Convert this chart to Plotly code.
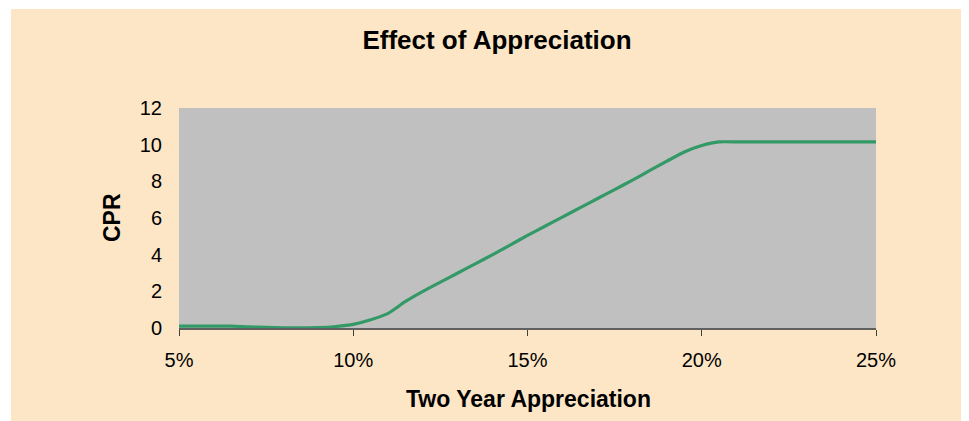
import plotly.graph_objects as go

# Two-year appreciation (fraction) and CPR values
appreciation = [0.050, 0.055, 0.060, 0.065, 0.070, 0.075, 0.080, 0.085, 0.090, 0.095,
                0.100, 0.105, 0.110, 0.115, 0.120, 0.125, 0.130, 0.135, 0.140, 0.145,
                0.150, 0.155, 0.160, 0.165, 0.170, 0.175, 0.180, 0.185, 0.190, 0.195,
                0.200, 0.205, 0.210, 0.215, 0.220, 0.225, 0.230, 0.235, 0.240, 0.245, 0.250]
cpr = [0.10, 0.10, 0.10, 0.10, 0.06, 0.03, 0.01, 0.01, 0.02, 0.08,
       0.20, 0.45, 0.80, 1.45, 2.00, 2.50, 3.00, 3.50, 4.00, 4.52,
       5.05, 5.55, 6.05, 6.55, 7.05, 7.55, 8.05, 8.58, 9.10, 9.60,
       9.95, 10.15, 10.15, 10.15, 10.15, 10.15, 10.15, 10.15, 10.15, 10.15, 10.15]

x_ticks = [0.05, 0.10, 0.15, 0.20, 0.25]
x_tick_labels = ["5%", "10%", "15%", "20%", "25%"]
y_ticks = [0, 2, 4, 6, 8, 10, 12]

# page body has an 8px margin, so figure coordinates are screen - 8
W, H = 961, 413
L, R, T, B = 171, 93, 100, 93
pw, ph = W - L - R, H - T - B

def px_to_paper_x(p):
    return (p - L) / pw

def px_to_paper_y(p):
    return (H - B - p) / ph

FONT = "Arial, Liberation Sans, Helvetica, sans-serif"
BEIGE = "#FDE6C5"

fig = go.Figure()
fig.add_trace(go.Scatter(
    x=appreciation, y=cpr, mode="lines",
    line=dict(color="#339966", width=3.2, shape="spline", smoothing=0.6),
    hoverinfo="x+y", showlegend=False,
))

fig.update_layout(
    width=W, height=H,
    margin=dict(l=L, r=R, t=T, b=B),
    paper_bgcolor=BEIGE,
    plot_bgcolor="#C0C0C0",
    font=dict(family=FONT, color="#000000", size=20),
    title=dict(
        text="<b>Effect of Appreciation</b>",
        font=dict(family=FONT, size=26, color="#000000"),
        xref="container", yref="container",
        x=489 / W, y=1 - 32 / H, xanchor="center", yanchor="middle",
    ),
    xaxis=dict(
        range=[0.05, 0.25], tickvals=x_ticks, ticktext=x_tick_labels,
        showgrid=False, zeroline=False,
        showline=True, linecolor="#606060", linewidth=1.5,
        ticks="outside", ticklen=6, tickcolor="#404040", tickwidth=1,
        ticklabelstandoff=7,
        tickfont=dict(family=FONT, size=20, color="#000000"),
        fixedrange=True,
    ),
    yaxis=dict(
        range=[0, 12], tickvals=y_ticks,
        showgrid=False, zeroline=False, showline=False,
        ticks="", ticklabelstandoff=16,
        tickfont=dict(family=FONT, size=20, color="#000000"),
        fixedrange=True,
    ),
    shapes=[
        dict(type="rect", xref="paper", yref="paper", layer="above",
             x0=px_to_paper_x(-5), x1=px_to_paper_x(3),
             y0=px_to_paper_y(H + 5), y1=px_to_paper_y(-5),
             fillcolor="#FFFFFF", line=dict(width=0)),
        dict(type="rect", xref="paper", yref="paper", layer="above",
             x0=px_to_paper_x(-5), x1=px_to_paper_x(W + 5),
             y0=px_to_paper_y(1), y1=px_to_paper_y(-5),
             fillcolor="#FFFFFF", line=dict(width=0)),
    ],
    annotations=[
        dict(text="<b>Two Year Appreciation</b>", xref="paper", yref="paper",
             x=px_to_paper_x(520), y=px_to_paper_y(391),
             xanchor="center", yanchor="middle", showarrow=False,
             font=dict(family=FONT, size=23, color="#000000")),
        dict(text="<b>CPR</b>", xref="paper", yref="paper",
             x=px_to_paper_x(104), y=px_to_paper_y(210),
             xanchor="center", yanchor="middle", showarrow=False, textangle=-90,
             font=dict(family=FONT, size=23, color="#000000")),
    ],
)

fig.write_html("out.html")
